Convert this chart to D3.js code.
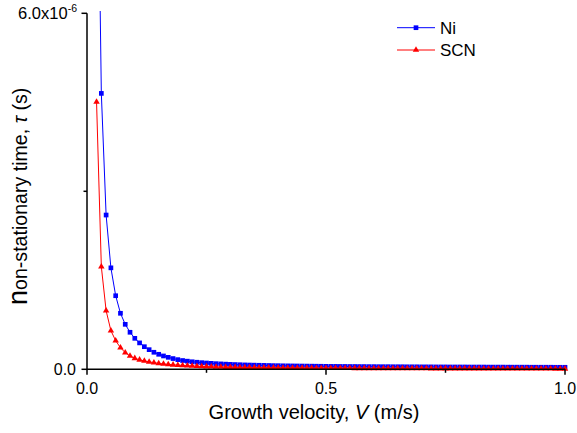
<!DOCTYPE html>
<html><head><meta charset="utf-8">
<script src="https://cdn.jsdelivr.net/npm/d3@7"></script>
<style>body{margin:0;background:#fff}svg{display:block;font-family:Arial,"Liberation Sans",sans-serif}</style>
</head><body><svg id="c" width="577" height="433"></svg>
<script>
const velocity = d3.range(2, 101).map(i => i / 100);
const niTau = [10.5,4.65,2.60,1.71,1.24,0.944,0.758,0.624,0.522,0.445,0.381,0.331,0.287,0.253,0.225,0.202,0.181,0.163,0.148,
0.137,0.127,0.119,0.112,0.106,0.100,0.095,0.091,0.087,0.083,
0.080,0.077,0.074,0.072,0.070,0.068,0.066,0.064,0.062,0.061,
0.059,0.058,0.057,0.056,0.055,0.054,0.053,0.052,0.051,0.050,
0.049,0.049,0.048,0.048,0.047,0.047,0.046,0.046,0.045,0.045,
0.044,0.044,0.044,0.043,0.043,0.043,0.042,0.042,0.042,0.041,
0.041,0.041,0.040,0.040,0.040,0.039,0.039,0.039,0.039,0.038,
0.038,0.038,0.038,0.037,0.037,0.037,0.037,0.036,0.036,0.036,
0.036,0.036,0.035,0.035,0.035,0.035,0.035,0.034,0.034,0.034];
const scnTau = [4.505,1.729,0.988,0.651,0.482,0.364,0.280,0.225,0.185,0.160,0.140,0.125,0.112,0.100,0.090,0.083,0.076,0.070,0.065,
0.060,0.056,0.052,0.049,0.046,0.043,0.041,0.039,0.037,0.035,
0.033,0.032,0.031,0.030,0.029,0.028,0.027,0.026,0.025,0.025,
0.024,0.023,0.023,0.022,0.022,0.021,0.021,0.020,0.020,0.019,
0.019,0.019,0.018,0.018,0.018,0.017,0.017,0.017,0.016,0.016,
0.016,0.016,0.015,0.015,0.015,0.015,0.014,0.014,0.014,0.014,
0.014,0.013,0.013,0.013,0.013,0.013,0.012,0.012,0.012,0.012,
0.012,0.012,0.011,0.011,0.011,0.011,0.011,0.011,0.011,0.010,
0.010,0.010,0.010,0.010,0.010,0.010,0.010,0.009,0.009,0.009];
const tauUnit = 1e-6;
const xMajorTicks = [0, 0.5, 1.0];
const xMinorTicks = [0.25, 0.75];
const xTickLabels = ["0.0", "0.5", "1.0"];
const yMajorTicks = [0, 6e-6];
const yMinorTicks = [3e-6];
const seriesNames = ["Ni", "SCN"];
const seriesColors = ["#0000ff", "#ff0000"];

const svg = d3.select("#c");
const x = d3.scaleLinear().domain([0, 1]).range([87, 565]);
const y = d3.scaleLinear().domain([0, 6e-6]).range([369.3, 13.3]);

svg.append("defs").append("clipPath").attr("id", "clip")
  .append("rect").attr("x", 87).attr("y", 11).attr("width", 490).attr("height", 370);

const series = [
  {name: seriesNames[0], color: seriesColors[0], vals: niTau, sym: d3.symbolSquare, size: 22},
  {name: seriesNames[1], color: seriesColors[1], vals: scnTau, sym: d3.symbolTriangle, size: 18}
];

const line = d3.line().x(d => x(d[0])).y(d => y(d[1]));
const plot = svg.append("g").attr("clip-path", "url(#clip)");
series.forEach(s => {
  const pts = velocity.map((v, i) => [v, s.vals[i] * tauUnit]);
  plot.append("path").datum(pts).attr("d", line).attr("fill", "none")
    .attr("stroke", s.color).attr("stroke-width", 1);
  plot.selectAll(null).data(pts).enter().append("path")
    .attr("d", d3.symbol().type(s.sym).size(s.size))
    .attr("transform", d => `translate(${x(d[0])},${y(d[1])})`)
    .attr("fill", s.color);
});

// axes
const ax = svg.append("g").attr("stroke", "#000").attr("stroke-width", 1.5);
ax.append("line").attr("x1", x(0)).attr("x2", x(1)).attr("y1", y(0)).attr("y2", y(0));
ax.append("line").attr("x1", x(0)).attr("x2", x(0)).attr("y1", y(0)).attr("y2", y(6e-6));
xMajorTicks.forEach(t => ax.append("line").attr("x1", x(t)).attr("x2", x(t)).attr("y1", y(0)).attr("y2", y(0) + 5.5));
xMinorTicks.forEach(t => ax.append("line").attr("x1", x(t)).attr("x2", x(t)).attr("y1", y(0)).attr("y2", y(0) + 3.5));
yMajorTicks.forEach(t => ax.append("line").attr("x1", x(0)).attr("x2", x(0) - 5.5).attr("y1", y(t)).attr("y2", y(t)));
yMinorTicks.forEach(t => ax.append("line").attr("x1", x(0)).attr("x2", x(0) - 3.5).attr("y1", y(t)).attr("y2", y(t)));

xMajorTicks.forEach((t, i) => svg.append("text").attr("x", x(t)).attr("y", 393.5)
  .attr("text-anchor", "middle").attr("font-size", 16).text(xTickLabels[i]));

svg.append("text").attr("x", 76).attr("y", y(0) + 5.8).attr("text-anchor", "end")
  .attr("font-size", 16).text("0.0");
const topLabel = svg.append("text").attr("x", 77).attr("y", y(6e-6) + 6).attr("text-anchor", "end").attr("font-size", 16.5);
topLabel.append("tspan").text("6.0x10");
topLabel.append("tspan").attr("dy", -7).attr("font-size", 10.5).text("-6");

svg.append("text").attr("x", 314).attr("y", 419).attr("text-anchor", "middle").attr("font-size", 20)
  .html('Growth velocity, <tspan font-style="italic">V</tspan> (m/s)');

svg.append("text").attr("transform", "translate(27,305) rotate(-90)").attr("font-size", 19.6)
  .html('<tspan font-size="27">n</tspan>on-stationary time, <tspan font-style="italic">τ</tspan> (s)');

// legend
series.forEach((s, i) => {
  const ly = 27.7 + i * 22.3;
  svg.append("line").attr("x1", 397).attr("x2", 435).attr("y1", ly).attr("y2", ly)
    .attr("stroke", s.color).attr("stroke-width", 1);
  svg.append("path").attr("d", d3.symbol().type(s.sym).size(s.size)).attr("fill", s.color)
    .attr("transform", `translate(416,${ly})`);
  svg.append("text").attr("x", 440).attr("y", ly + 6).attr("font-size", 17).text(s.name);
});
</script></body></html>
